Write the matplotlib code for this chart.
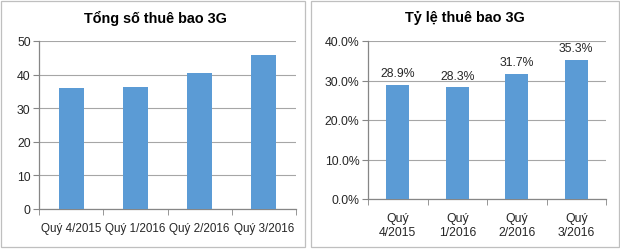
import matplotlib
matplotlib.use("Agg")
import matplotlib.pyplot as plt
from matplotlib.patches import Rectangle
from matplotlib.ticker import FixedLocator

plt.rcParams['font.family'] = ['Liberation Sans', 'DejaVu Sans']

# Data
quarters_left = ["Quý 4/2015", "Quý 1/2016", "Quý 2/2016", "Quý 3/2016"]
quarters_right = ["Quý\n4/2015", "Quý\n1/2016", "Quý\n2/2016", "Quý\n3/2016"]
subscribers = [36.0, 36.3, 40.6, 45.9]
ratio_pct = [28.9, 28.3, 31.7, 35.3]
left_title = "Tổng số thuê bao 3G"
right_title = "Tỷ lệ thuê bao 3G"

W, H = 620, 251
fig = plt.figure(figsize=(W / 100, H / 100), dpi=100)
fig.patch.set_facecolor("white")

BAR = "#5B9BD5"
GRID = "#A6A6A6"
AXC = "#868686"
TXT = "#262626"

def fx(px):
    return px / W

def fy(py):
    return 1 - py / H

# panel borders
for x0, x1 in [(1, 305), (311, 619)]:
    fig.patches.append(Rectangle((fx(x0), fy(248)), fx(x1 - x0), (247 - 1) / H,
                                 transform=fig.transFigure, fill=False,
                                 edgecolor="#BFBFBF", linewidth=0.9))

def style(ax, n, pad, xsize):
    ax.set_xlim(-0.5, n - 0.5)
    for s in ["top", "right"]:
        ax.spines[s].set_visible(False)
    for s in ["left", "bottom"]:
        ax.spines[s].set_color(AXC)
        ax.spines[s].set_linewidth(0.9)
    ax.yaxis.grid(True, color=GRID, linewidth=0.8)
    ax.set_axisbelow(True)
    ax.tick_params(axis="y", length=4, color=AXC, labelsize=8.8, labelcolor=TXT, pad=2)
    ax.xaxis.set_major_locator(FixedLocator(list(range(n))))
    ax.xaxis.set_minor_locator(FixedLocator([i - 0.5 for i in range(n + 1)]))
    ax.tick_params(axis="x", which="major", length=0, labelsize=xsize, labelcolor=TXT, pad=pad)
    ax.tick_params(axis="x", which="minor", length=4, color=AXC)

# Left chart
axL = fig.add_axes([fx(39), fy(210), fx(296 - 39), (210 - 42) / H])
xL = range(len(quarters_left))
axL.bar(xL, subscribers, width=0.39, color=BAR, zorder=3)
axL.set_ylim(0, 50)
axL.set_yticks([0, 10, 20, 30, 40, 50])
style(axL, len(quarters_left), 9.5, 8.4)
axL.set_xticklabels(quarters_left)
fig.text(fx(155), fy(18), left_title, ha="center", va="center",
         fontsize=10.4, fontweight="bold", color="black")

# Right chart
axR = fig.add_axes([fx(368), fy(200), fx(606 - 368), (200 - 42) / H])
xR = range(len(quarters_right))
axR.bar(xR, ratio_pct, width=0.39, color=BAR, zorder=3)
axR.set_ylim(0, 40)
axR.set_yticks([0, 10, 20, 30, 40])
axR.set_yticklabels([f"{v:.1f}%" for v in [0, 10, 20, 30, 40]])
style(axR, len(quarters_right), 9.5, 8.8)
axR.set_xticklabels(quarters_right, linespacing=1.15)
for xi, v in zip(xR, ratio_pct):
    axR.annotate(f"{v:.1f}%", (xi, v), xytext=(0, 4), textcoords="offset points",
                 ha="center", va="bottom", fontsize=8.8, color=TXT)
fig.text(fx(465), fy(18), right_title, ha="center", va="center",
         fontsize=10.4, fontweight="bold", color="black")

fig.savefig("out.png", dpi=100, facecolor="white")
